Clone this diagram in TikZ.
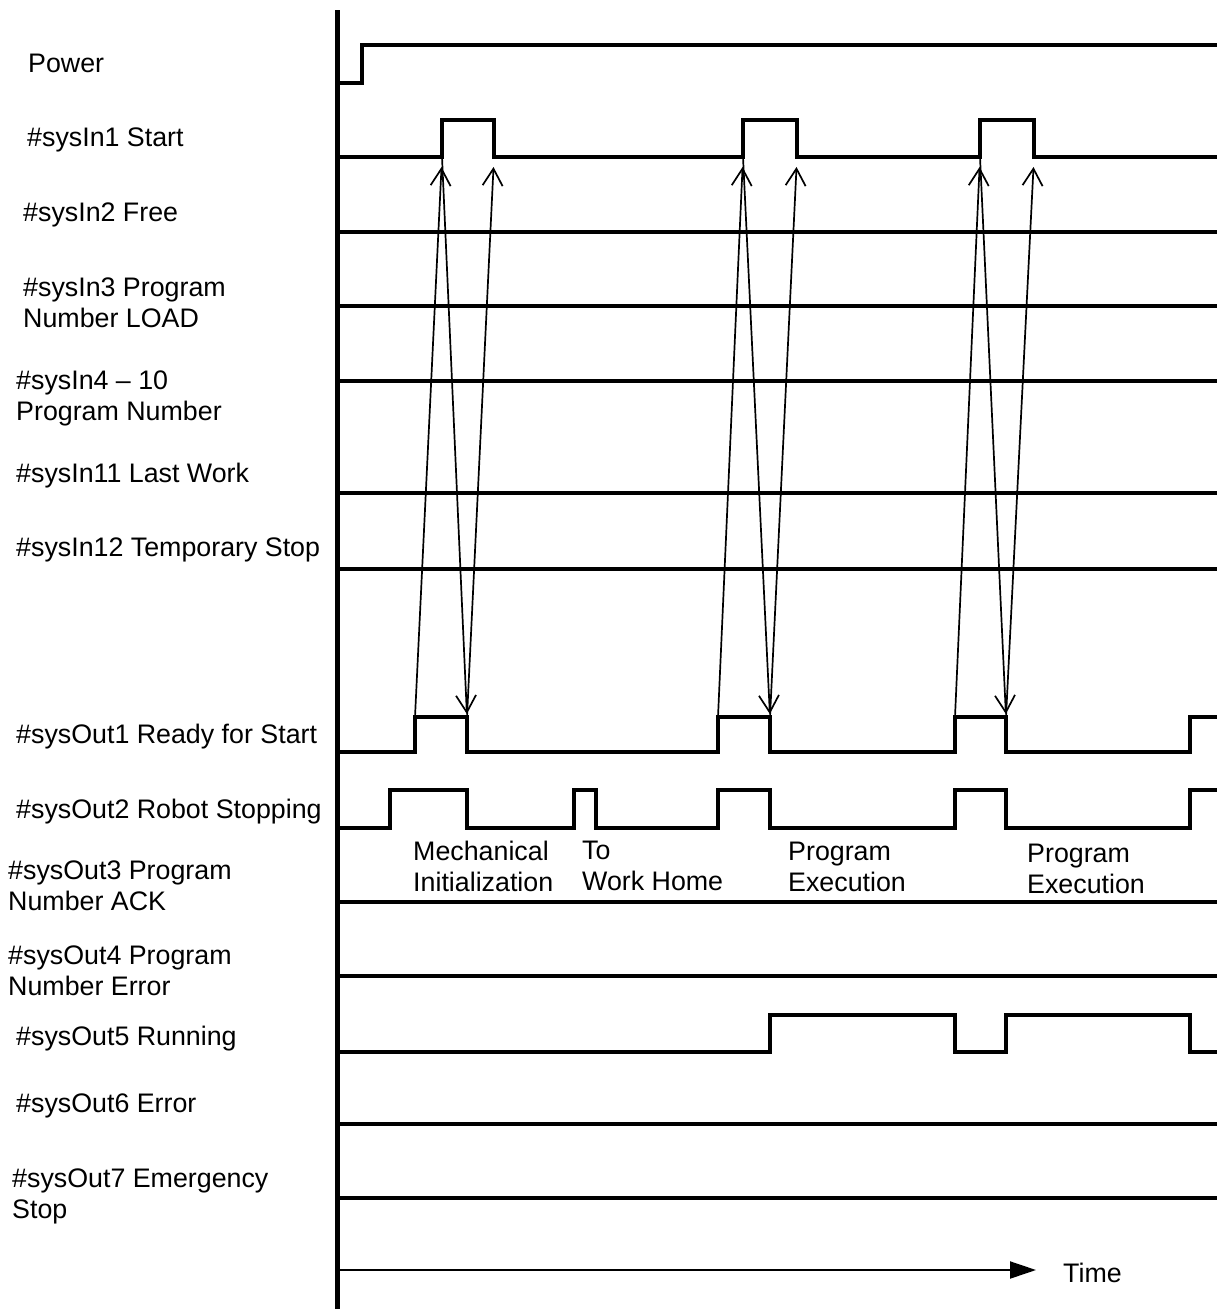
\documentclass[tikz,border=0pt]{standalone}
\usepackage{fontspec}
\setmainfont{Liberation Sans}
\usetikzlibrary{arrows.meta}

\tikzset{
  signal/.style={line width=4.5pt},
  sigaxis/.style={line width=5pt},
  handshake/.style={line width=1.7pt,-{Straight Barb[length=17pt,width=20pt,line width=1.7pt]}},
  timearrow/.style={line width=2pt,-{Triangle[length=26pt,width=17pt]}},
  siglabel/.style={anchor=north west,inner sep=0pt,align=left,font=\fontsize{26.8}{31.5}\selectfont},
}

\begin{document}
\begin{tikzpicture}[x=1pt,y=-1pt]
    \useasboundingbox (0,0) rectangle (1217,1309);
    % signal names
    \node[siglabel] (power) at (28,53.5) {Power};
    \node[siglabel] (in1) at (27,127.5) {\#sysIn1 Start};
    \node[siglabel] (in2) at (23,202.5) {\#sysIn2 Free};
    \node[siglabel] (in3) at (23,277.5) {\#sysIn3 Program\\Number LOAD};
    \node[siglabel] (in4) at (16,370.5) {\#sysIn4 \textendash{} 10\\Program Number};
    \node[siglabel] (in11) at (16,462.5) {\#sysIn11 Last Work};
    \node[siglabel] (in12) at (16,537.5) {\#sysIn12 Temporary Stop};
    \node[siglabel] (out1) at (16,723.5) {\#sysOut1 Ready for Start};
    \node[siglabel] (out2) at (16,798.5) {\#sysOut2 Robot Stopping};
    \node[siglabel] (out3) at (8,860.5) {\#sysOut3 Program\\Number ACK};
    \node[siglabel] (out4) at (8,945.5) {\#sysOut4 Program\\Number Error};
    \node[siglabel] (out5) at (16,1025.5) {\#sysOut5 Running};
    \node[siglabel] (out6) at (16,1093.5) {\#sysOut6 Error};
    \node[siglabel] (out7) at (12,1168.5) {\#sysOut7 Emergency\\Stop};
    % axis
    \draw[sigaxis] (337,10) -- (337,1309);
    % waveforms
    \draw[signal] (337,83) -| (362,45) -- (1217,45);
    \draw[signal] (337,157) -| (442,120) -| (494,157) -| (743,120) -| (797,157)
      -| (980,120) -| (1034,157) -- (1217,157);
    \foreach \y in {232,306,381,493,569,902,976,1124,1198}
      \draw[signal] (337,\y) -- (1217,\y);
    \draw[signal] (337,752) -| (415,717) -| (467,752) -| (718,717) -| (770,752)
      -| (955,717) -| (1006,752) -| (1190,717) -- (1217,717);
    \draw[signal] (337,828) -| (390,790) -| (467,828) -| (574,790) -| (596,828)
      -| (718,790) -| (770,828) -| (955,790) -| (1006,828) -| (1190,790) -- (1217,790);
    \draw[signal] (337,1052) -| (770,1015) -| (955,1052) -| (1006,1015) -| (1190,1052)
      -- (1217,1052);
    % handshake between start and ready
    \foreach \k/\r/\s/\f/\t in {1/415/442/467/494,2/718/743/770/797,3/955/980/1006/1034} {
      \coordinate (rdy\k) at (\r,717);
      \coordinate (st\k) at (\s,157);
      \coordinate (off\k) at (\f,717);
      \coordinate (rel\k) at (\t,157);
      \draw[handshake,shorten >=10pt] (rdy\k) -- (st\k);
      \draw[handshake,shorten >=3pt] (st\k) -- (off\k);
      \draw[handshake,shorten >=10pt] (off\k) -- (rel\k);
    }
    % phases
    \node[siglabel] (mech) at (413,840.5) {Mechanical\\Initialization};
    \node[siglabel] (home) at (582,840.5) {To\\Work Home};
    \node[siglabel] (exec1) at (788,841.5) {Program\\Execution};
    \node[siglabel] (exec2) at (1027,843.5) {Program\\Execution};
    % time axis
    \coordinate (t0) at (339,1270);
    \coordinate (t1) at (1036,1270);
    \node[siglabel] (time) at (1063,1262.5) {Time};
    \draw[timearrow] (t0) -- (t1);
\end{tikzpicture}
\end{document}
